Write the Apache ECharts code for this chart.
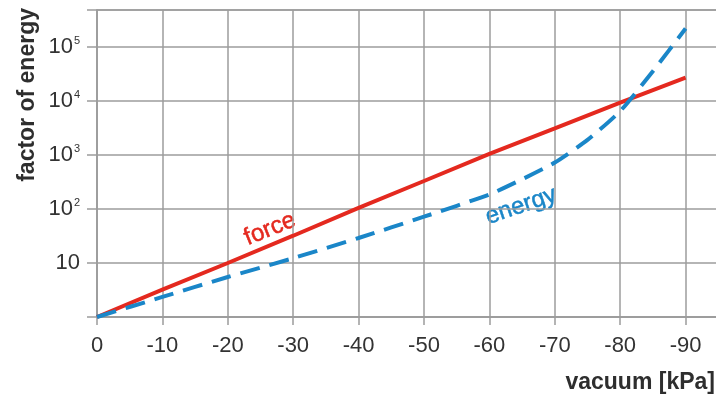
<!DOCTYPE html>
<html>
<head>
<meta charset="utf-8">
<script src="https://cdn.jsdelivr.net/npm/echarts@6/dist/echarts.min.js"></script>
<style>html,body{margin:0;padding:0;background:#fff;}#c{width:716px;height:399px;}</style>
</head>
<body>
<div id="c"></div>
<script>
// vacuum in kPa
const vacuumForce = [0, -10, -20, -30, -40, -50, -60, -70, -80, -90];
const forceValues = [1, 3.2, 10, 32, 105, 330, 1050, 3100, 9300, 27000];
const vacuumEnergy = [0, -10, -20, -30, -40, -50, -60, -65, -70, -75, -80, -85, -90];
const energyValues = [1, 2.35, 5.5, 12.3, 29, 72, 186, 355, 725, 1900, 6500, 35500, 220000];
const xTicks = [0, -10, -20, -30, -40, -50, -60, -70, -80, -90];
const yTickExponents = [1, 2, 3, 4, 5];

const FONT = 'Liberation Sans, Arial, sans-serif';
const chart = echarts.init(document.getElementById('c'), null, {renderer: 'canvas'});
const gridColor = '#9c9c9c';

chart.setOption({
  animation: false,
  backgroundColor: '#fff',
  grid: {left: 97, top: 10, bottom: 82, right: -35, show: true, borderColor: gridColor, borderWidth: 1.5,
         containLabel: false, outerBoundsMode: 'none'},
  xAxis: {
    type: 'value', inverse: true, min: -100, max: 0, interval: 10,
    axisLine: {show: true, lineStyle: {color: gridColor, width: 1.5}},
    axisTick: {show: true, length: 8, lineStyle: {color: gridColor, width: 1.5}},
    splitLine: {show: true, lineStyle: {color: gridColor, width: 1.5}},
    axisLabel: {
      color: '#333', fontSize: 22, fontFamily: FONT, margin: 18,
      formatter: v => xTicks.indexOf(v) >= 0 ? String(v) : ''
    }
  },
  yAxis: {
    type: 'log', logBase: 10, min: 1, max: 484000,
    axisLine: {show: true, lineStyle: {color: gridColor, width: 1.5}},
    axisTick: {show: true, length: 10, lineStyle: {color: gridColor, width: 1.5}},
    splitLine: {show: true, lineStyle: {color: gridColor, width: 1.5}},
    axisLabel: {
      color: '#333', fontFamily: FONT, margin: 17, fontSize: 22,
      formatter: function (v) {
        const l = Math.log10(v);
        const e = Math.round(l);
        if (Math.abs(l - e) > 1e-6 || yTickExponents.indexOf(e) < 0) return '';
        if (e === 1) return '{b|10}';
        return '{b|10}{s|' + e + '}';
      },
      rich: {
        b: {fontSize: 22, fontFamily: FONT, color: '#333', lineHeight: 24},
        s: {fontSize: 11, fontFamily: FONT, color: '#333', verticalAlign: 'top', lineHeight: 24, padding: [0, 0, 0, 1]}
      }
    }
  },
  series: [
    {
      name: 'force', type: 'line', showSymbol: false, smooth: false,
      data: vacuumForce.map((x, i) => [x, forceValues[i]]),
      lineStyle: {color: '#e4291f', width: 4},
      z: 3
    },
    {
      name: 'energy', type: 'line', showSymbol: false, smooth: 0.2,
      data: vacuumEnergy.map((x, i) => [x, energyValues[i]]),
      lineStyle: {color: '#1a86c8', width: 4, type: [20, 10], cap: 'butt'},
      z: 4
    }
  ],
  graphic: [
    {type: 'text', left: 16, top: 8, rotation: Math.PI / 2, originX: 0, originY: 0,
     style: {text: 'factor of energy', font: 'bold 23px ' + FONT, fill: '#2e2e2e'}},
    {type: 'text', right: 1, top: 371,
     style: {text: 'vacuum [kPa]', font: 'bold 23px ' + FONT, fill: '#2e2e2e'}},
    {type: 'text', x: 270, y: 229, rotation: 22 * Math.PI / 180,
     style: {text: 'force', font: '24px ' + FONT, fill: '#e4291f', align: 'center', verticalAlign: 'middle',
             stroke: '#e4291f', lineWidth: 0.5}},
    {type: 'text', x: 521, y: 206, rotation: 19 * Math.PI / 180,
     style: {text: 'energy', font: '24px ' + FONT, fill: '#1a86c8', align: 'center', verticalAlign: 'middle',
             stroke: '#1a86c8', lineWidth: 0.5}}
  ]
});
</script>
</body>
</html>
